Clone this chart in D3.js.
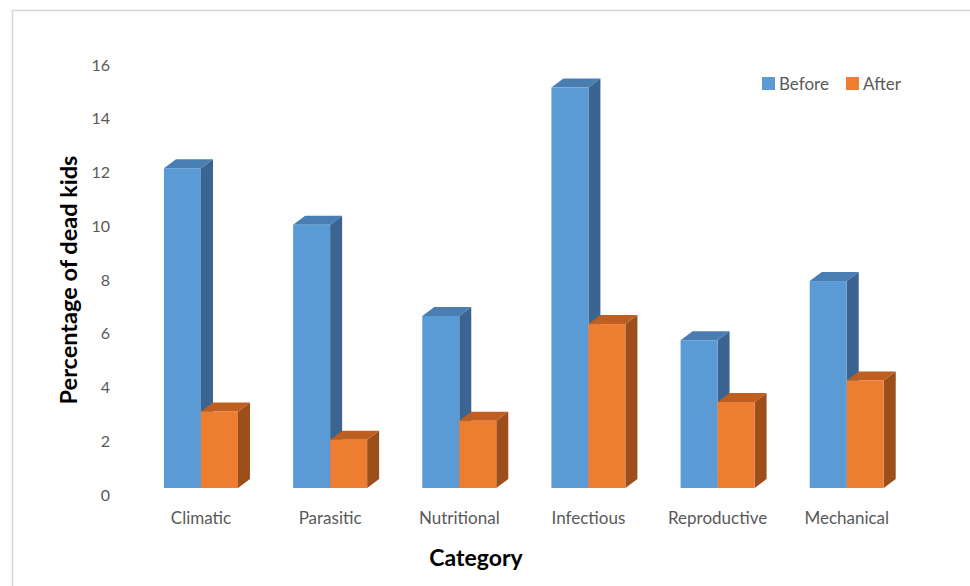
<!DOCTYPE html>
<html>
<head>
<meta charset="utf-8">
<script src="https://cdn.jsdelivr.net/npm/d3@7/dist/d3.min.js"></script>
<style>
  html, body { margin: 0; padding: 0; background: #fff; }
  svg { display: block; }
  text { font-family: Lato, "Open Sans", sans-serif; }
</style>
</head>
<body>
<svg id="chart" width="970" height="586"></svg>
<script>
// Percentage of dead kids per cause, before and after
const categories = ["Climatic", "Parasitic", "Nutritional", "Infectious", "Reproductive", "Mechanical"];
const seriesNames = ["Before", "After"];
const beforeValues = [11.9, 9.8, 6.4, 14.9, 5.5, 7.7];
const afterValues = [2.85, 1.8, 2.5, 6.1, 3.2, 4.0];
const yTicks = [0, 2, 4, 6, 8, 10, 12, 14, 16];

const colors = {
  Before: { front: "#5B9BD5", top: "#4A7DB1", side: "#3B6590" },
  After:  { front: "#ED7D31", top: "#BE5E20", side: "#9C4F1B" }
};

const svg = d3.select("#chart");

// outer frame
svg.append("rect")
  .attr("x", 12.5).attr("y", 10.5)
  .attr("width", 1000).attr("height", 600)
  .attr("fill", "none")
  .attr("stroke", "#d6d6d6")
  .attr("stroke-width", 1.5);

const y = d3.scaleLinear().domain([0, 16]).range([495, 65]);
const x = d3.scaleBand().domain(categories)
  .range([136.4, 911.3]).paddingInner(0.427).paddingOuter(0.2135);
const xs = d3.scaleBand().domain(seriesNames).range([0, x.bandwidth()]).padding(0);

// oblique 3D projection: depth of a bar and how far bars sit behind the axis plane
const depthX = 12, depthY = 9;
const setBack = 7;

const rows = categories.map((c, i) => ({ cat: c, Before: beforeValues[i], After: afterValues[i] }));

const bars = [];
rows.forEach(r => seriesNames.forEach(s => bars.push({ cat: r.cat, series: s, value: r[s] })));

const g = svg.append("g");
bars.forEach(b => {
  const x0 = x(b.cat) + xs(b.series);
  const w = xs.bandwidth();
  const yt = y(b.value) - setBack;
  const yb = y(0) - setBack;
  const c = colors[b.series];
  const bar = g.append("g");
  // side face
  bar.append("polygon")
    .attr("points", [[x0 + w, yt], [x0 + w + depthX, yt - depthY], [x0 + w + depthX, yb - depthY], [x0 + w, yb]].map(p => p.join(",")).join(" "))
    .attr("fill", c.side);
  // top face
  bar.append("polygon")
    .attr("points", [[x0, yt], [x0 + depthX, yt - depthY], [x0 + w + depthX, yt - depthY], [x0 + w, yt]].map(p => p.join(",")).join(" "))
    .attr("fill", c.top);
  // front face
  bar.append("rect")
    .attr("x", x0).attr("y", yt)
    .attr("width", w).attr("height", yb - yt)
    .attr("fill", c.front);
});

// value axis
const yAxis = svg.append("g")
  .attr("transform", "translate(110,0)")
  .call(d3.axisLeft(y).tickValues(yTicks).tickSize(0).tickPadding(0).tickFormat(d3.format("d")));
yAxis.select(".domain").remove();
yAxis.selectAll("text")
  .attr("fill", "#595959")
  .style("font-size", "16px")
  .style("font-family", "Lato, 'Open Sans', sans-serif");

// category axis
const xAxis = svg.append("g")
  .attr("transform", "translate(0,512)")
  .call(d3.axisBottom(x).tickSize(0).tickPadding(0));
xAxis.select(".domain").remove();
xAxis.selectAll("text")
  .attr("fill", "#595959")
  .attr("dy", "0.71em")
  .style("font-size", "17px")
  .style("font-family", "Lato, 'Open Sans', sans-serif");

// axis titles
svg.append("text")
  .attr("x", 476).attr("y", 566)
  .attr("text-anchor", "middle")
  .style("font-size", "23px").style("font-weight", "bold")
  .attr("fill", "#000")
  .text("Category");

svg.append("text")
  .attr("transform", "translate(77,280) rotate(-90)")
  .attr("text-anchor", "middle")
  .style("font-size", "23.5px").style("font-weight", "bold")
  .attr("fill", "#000")
  .text("Percentage of dead kids");

// legend
const legend = svg.append("g").attr("transform", "translate(762,77)");
const legendX = [0, 84];
seriesNames.forEach((s, i) => {
  const item = legend.append("g").attr("transform", `translate(${legendX[i]},0)`);
  item.append("rect").attr("width", 13).attr("height", 13).attr("fill", colors[s].front);
  item.append("text").attr("x", 17).attr("y", 12.5)
    .attr("fill", "#595959")
    .style("font-size", "17px")
    .text(s);
});
</script>
</body>
</html>
